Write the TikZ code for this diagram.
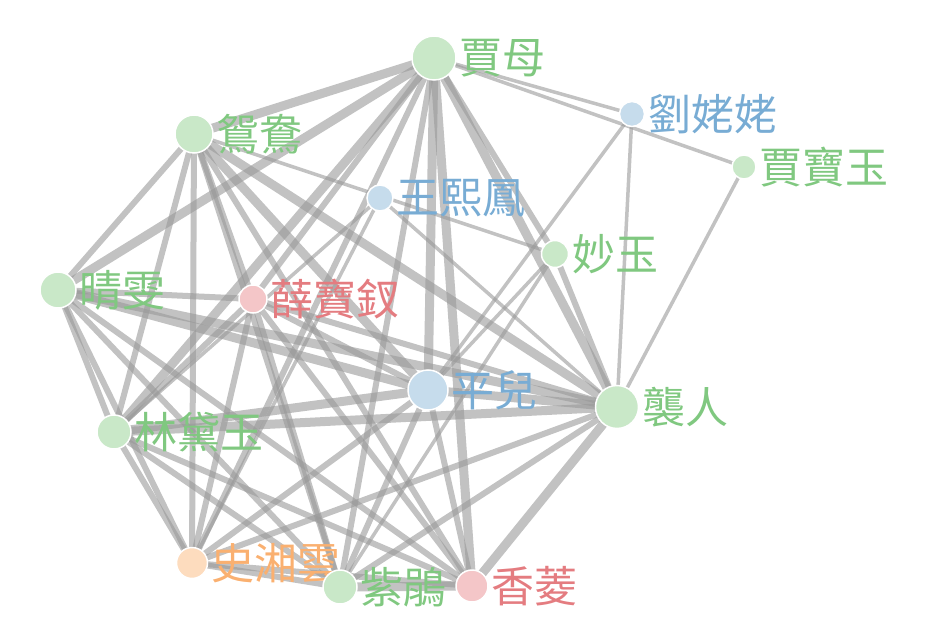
\documentclass[tikz,border=0pt]{standalone}
\usepackage{fontspec}
\newfontfamily\cjk{Noto Sans CJK TC}
\usetikzlibrary{backgrounds}
\definecolor{ngreen}{RGB}{201,232,200}
\definecolor{tgreen}{RGB}{128,200,128}
\definecolor{nblue}{RGB}{198,220,236}
\definecolor{tblue}{RGB}{120,172,212}
\definecolor{nred}{RGB}{244,198,200}
\definecolor{tred}{RGB}{228,124,128}
\definecolor{norange}{RGB}{253,220,190}
\definecolor{torange}{RGB}{250,176,112}
\definecolor{linkgray}{RGB}{153,153,153}

\begin{document}
\begin{tikzpicture}[x=1pt, y=-1pt, font=\cjk\fontsize{43}{46}\selectfont,
person/.style={circle, draw=white, line width=1.5pt, inner sep=0pt, minimum size=#1},
grn/.style={person=#1, fill=ngreen},
blu/.style={person=#1, fill=nblue},
rd/.style={person=#1, fill=nred},
org/.style={person=#1, fill=norange},
tg/.style={text=tgreen, inner sep=1pt, label distance=2pt},
tb/.style={text=tblue, inner sep=1pt, label distance=2pt},
tr/.style={text=tred, inner sep=1pt, label distance=2pt},
to/.style={text=torange, inner sep=1pt, label distance=2pt},
lk/.style={draw=linkgray, draw opacity=0.6, line width=#1}]
\useasboundingbox (0,0) rectangle (936,628);
% people
\node[grn=44, label={[tg]east:賈母}] (jiamu) at (434,58) {};
\node[grn=38, label={[tg]east:鴛鴦}] (yuanyang) at (194,134) {};
\node[blu=26, label={[tb]east:王熙鳳}] (xifeng) at (380,198) {};
\node[blu=25, label={[tb]east:劉姥姥}] (liulaolao) at (632,114) {};
\node[grn=24, label={[tg]east:賈寶玉}] (baoyu) at (744,167) {};
\node[grn=27, label={[tg]east:妙玉}] (miaoyu) at (555,254) {};
\node[grn=36, label={[tg]east:晴雯}] (qingwen) at (58,290) {};
\node[rd=28, label={[tr]east:薛寶釵}] (baochai) at (253,299) {};
\node[blu=40, label={[tb]east:平兒}] (pinger) at (428,390) {};
\node[grn=43, label={[tg]east:襲人}] (xiren) at (617,407) {};
\node[grn=34, label={[tg]east:林黛玉}] (daiyu) at (114,432) {};
\node[org=31, label={[to]east:史湘雲}] (xiangyun) at (192,563) {};
\node[grn=34, label={[tg]east:紫鵑}] (zijuan) at (340,587) {};
\node[rd=32, label={[tr]east:香菱}] (xiangling) at (472,586) {};
% links
\begin{scope}[on background layer]
\foreach \a/\b in {jiamu/yuanyang, jiamu/qingwen, jiamu/daiyu, jiamu/pinger, jiamu/xiren,
  jiamu/xiangling, qingwen/pinger, qingwen/xiren, daiyu/pinger, daiyu/xiren, pinger/xiren,
  xiangling/xiren, zijuan/xiangling, yuanyang/xiren, yuanyang/pinger}
  \draw[lk=9] (\a.center) -- (\b.center);
\foreach \a/\b in {jiamu/baochai, jiamu/zijuan, jiamu/xiangyun, jiamu/miaoyu,
  yuanyang/qingwen, yuanyang/daiyu, yuanyang/xiangyun, yuanyang/zijuan, yuanyang/xiangling,
  yuanyang/baochai, qingwen/daiyu, qingwen/xiangyun, qingwen/baochai, qingwen/zijuan,
  qingwen/xiangling, baochai/daiyu, baochai/xiangyun, baochai/zijuan, baochai/xiangling,
  baochai/xiren, baochai/pinger, daiyu/xiangyun, daiyu/zijuan, daiyu/xiangling,
  xiangyun/zijuan, xiangyun/xiangling, xiangyun/pinger, xiangyun/xiren, zijuan/pinger,
  zijuan/xiren, xiangling/pinger, miaoyu/xiren}
  \draw[lk=6] (\a.center) -- (\b.center);
\foreach \a/\b in {jiamu/liulaolao, jiamu/baoyu, liulaolao/xiren, liulaolao/pinger,
  baoyu/xiren, yuanyang/miaoyu, xifeng/xiren, xifeng/daiyu, xifeng/xiangyun,
  miaoyu/pinger, miaoyu/zijuan}
  \draw[lk=3.5] (\a.center) -- (\b.center);
\end{scope}
\end{tikzpicture}
\end{document}
